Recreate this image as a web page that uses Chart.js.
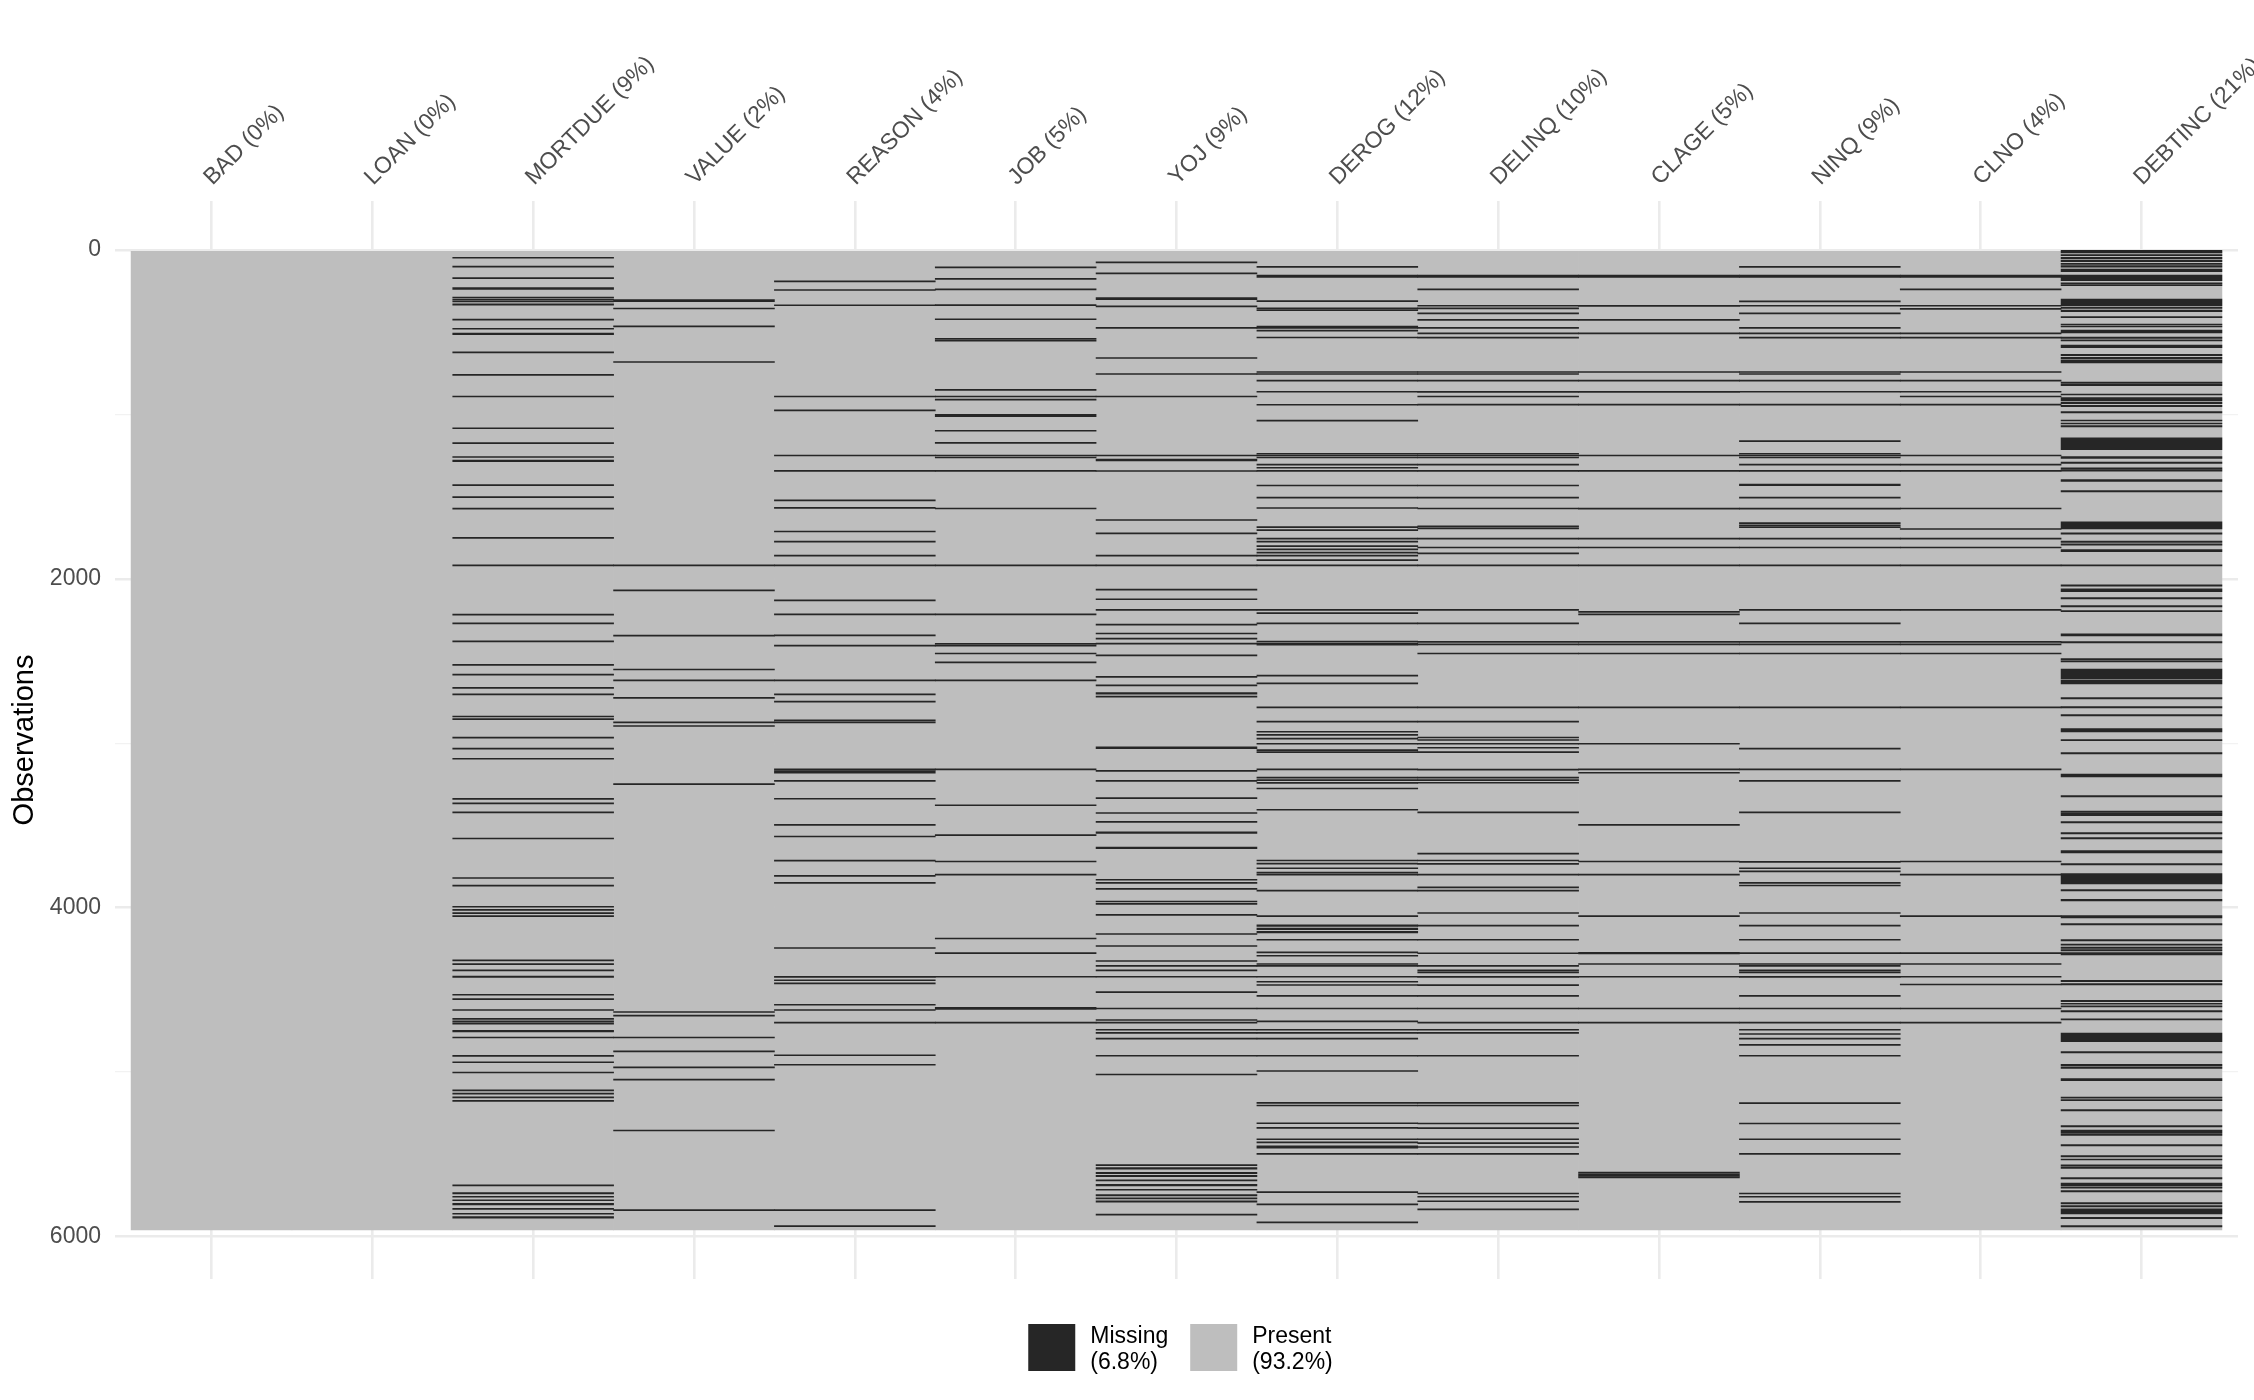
<!DOCTYPE html>
<html>
<head>
<meta charset="utf-8">
<title>Missing values by variable</title>
<script src="https://cdn.jsdelivr.net/npm/chart.js@4.4.1/dist/chart.umd.min.js"></script>
<style>
  html, body { margin: 0; padding: 0; background: #ffffff; }
  canvas { display: block; }
</style>
</head>
<body>
<canvas id="chart" width="2254" height="1400" style="width:2254px;height:1400px"></canvas>
<script>
// Variables in column order and their share of missing values
const variables = ['BAD', 'LOAN', 'MORTDUE', 'VALUE', 'REASON', 'JOB', 'YOJ', 'DEROG', 'DELINQ', 'CLAGE', 'NINQ', 'CLNO', 'DEBTINC'];
const missingPct = ['0%', '0%', '9%', '2%', '4%', '5%', '9%', '12%', '10%', '5%', '9%', '4%', '21%'];
const tickLabels = variables.map((v, i) => `${v} (${missingPct[i]})`);
const yTicks = [0, 1000, 2000, 3000, 4000, 5000, 6000];
const totalRows = 5960;

// Runs of missing observations per variable, as [first row, last row]
const missBAD = [];
const missLOAN = [];
const missMORTDUE = [[44,50],[98,102],[168,174],[228,240],[286,292],[298,304],[309,315],[328,336],[420,424],[476,482],[505,515],[620,626],[756,762],[888,892],[1081,1085],[1171,1177],[1256,1262],[1277,1288],[1427,1433],[1500,1506],[1570,1576],[1748,1754],[1915,1919],[2214,2220],[2268,2272],[2377,2381],[2520,2526],[2579,2583],[2660,2664],[2699,2703],[2834,2840],[2850,2856],[2963,2969],[3029,3033],[3091,3097],[3335,3341],[3362,3366],[3417,3421],[3576,3580],[3816,3822],[3863,3869],[3991,3997],[4010,4016],[4030,4034],[4048,4054],[4317,4323],[4340,4344],[4378,4384],[4416,4424],[4526,4532],[4553,4559],[4619,4623],[4672,4680],[4688,4692],[4700,4708],[4745,4755],[4786,4790],[4898,4904],[4937,4941],[4999,5003],[5108,5114],[5128,5134],[5150,5154],[5172,5178],[5686,5690],[5733,5741],[5755,5761],[5776,5782],[5798,5808],[5828,5834],[5858,5864],[5878,5888]];
const missVALUE = [[302,314],[353,357],[461,465],[678,684],[1915,1919],[2067,2071],[2342,2348],[2548,2552],[2614,2618],[2721,2727],[2870,2874],[2892,2898],[3245,3251],[4631,4635],[4653,4659],[4786,4790],[4871,4875],[4968,4972],[5042,5046],[5352,5356],[5836,5842]];
const missREASON = [[188,194],[240,244],[333,337],[888,892],[972,978],[1247,1253],[1340,1346],[1520,1524],[1565,1571],[1709,1715],[1771,1777],[1856,1862],[1915,1919],[2128,2134],[2213,2219],[2341,2347],[2403,2409],[2614,2618],[2699,2703],[2744,2750],[2858,2862],[2870,2874],[3156,3160],[3166,3170],[3176,3180],[3226,3230],[3334,3340],[3493,3499],[3564,3568],[3711,3715],[3803,3809],[3846,3852],[4242,4248],[4418,4422],[4438,4442],[4457,4461],[4587,4593],[4619,4623],[4696,4702],[4894,4898],[4952,4958],[5836,5842],[5933,5939]];
const missJOB = [[103,109],[173,179],[236,240],[332,338],[418,422],[537,543],[549,555],[848,854],[888,892],[907,911],[999,1013],[1096,1102],[1170,1176],[1247,1253],[1259,1265],[1340,1346],[1569,1575],[1915,1919],[2213,2219],[2392,2398],[2404,2410],[2451,2455],[2505,2509],[2614,2618],[3156,3162],[3374,3378],[3555,3561],[3716,3720],[3796,3802],[4184,4190],[4273,4279],[4417,4423],[4606,4618],[4696,4702]];
const missYOJ = [[72,78],[139,143],[290,302],[340,346],[471,477],[654,660],[751,757],[888,892],[1247,1253],[1272,1283],[1341,1345],[1639,1645],[1720,1726],[1856,1862],[1915,1919],[2062,2068],[2121,2125],[2186,2192],[2275,2281],[2329,2335],[2360,2366],[2391,2397],[2462,2466],[2593,2599],[2645,2649],[2692,2702],[2713,2719],[3022,3032],[3165,3169],[3226,3232],[3330,3336],[3421,3425],[3475,3479],[3538,3548],[3631,3641],[3827,3833],[3846,3852],[3882,3886],[3959,3965],[3974,3980],[4040,4046],[4157,4163],[4230,4236],[4321,4325],[4351,4357],[4378,4384],[4417,4423],[4510,4516],[4610,4616],[4680,4686],[4696,4702],[4739,4745],[4758,4764],[4793,4799],[4897,4903],[5011,5015],[5562,5568],[5580,5590],[5610,5618],[5628,5636],[5655,5662],[5682,5692],[5712,5718],[5745,5753],[5765,5771],[5782,5790],[5863,5869]];
const missDEROG = [[100,104],[153,167],[308,314],[351,357],[363,369],[463,477],[487,493],[529,535],[739,745],[751,757],[791,795],[859,865],[938,942],[1035,1039],[1236,1242],[1247,1253],[1259,1265],[1302,1306],[1321,1327],[1340,1346],[1429,1435],[1503,1509],[1566,1570],[1682,1688],[1701,1707],[1752,1758],[1771,1777],[1798,1804],[1818,1824],[1837,1843],[1856,1862],[1883,1889],[1915,1919],[2186,2192],[2205,2211],[2268,2272],[2379,2385],[2392,2404],[2585,2591],[2633,2637],[2779,2785],[2865,2871],[2927,2933],[2946,2952],[2969,2975],[3000,3006],[3039,3045],[3051,3057],[3156,3162],[3206,3212],[3221,3227],[3238,3242],[3272,3278],[3401,3405],[3710,3716],[3729,3735],[3757,3763],[3784,3790],[3796,3802],[3893,3899],[4048,4054],[4104,4114],[4124,4134],[4143,4153],[4192,4198],[4269,4275],[4289,4295],[4339,4345],[4351,4357],[4417,4423],[4447,4453],[4467,4473],[4533,4539],[4610,4616],[4688,4694],[4739,4745],[4758,4764],[4793,4799],[4897,4903],[4990,4996],[5184,5190],[5200,5206],[5308,5314],[5336,5342],[5405,5411],[5424,5430],[5448,5462],[5494,5500],[5727,5733],[5801,5807],[5911,5915]];
const missDELINQ = [[153,167],[236,240],[336,342],[352,356],[382,388],[422,426],[471,477],[504,508],[530,534],[739,745],[751,757],[791,795],[860,864],[888,892],[937,943],[1236,1242],[1247,1253],[1259,1265],[1302,1306],[1340,1346],[1429,1435],[1503,1509],[1569,1575],[1678,1684],[1690,1694],[1752,1758],[1806,1812],[1842,1846],[1915,1919],[2186,2192],[2268,2272],[2380,2384],[2395,2401],[2451,2455],[2779,2785],[2865,2871],[2962,2968],[2977,2983],[3000,3006],[3024,3030],[3051,3057],[3157,3161],[3206,3212],[3221,3227],[3237,3243],[3417,3421],[3668,3674],[3710,3716],[3730,3734],[3796,3802],[3873,3879],[3893,3899],[4029,4033],[4106,4112],[4192,4198],[4274,4278],[4351,4357],[4378,4384],[4390,4396],[4418,4422],[4468,4472],[4533,4539],[4610,4616],[4696,4702],[4739,4745],[4758,4764],[4897,4903],[5184,5190],[5200,5206],[5309,5313],[5337,5341],[5405,5411],[5429,5435],[5452,5458],[5494,5500],[5735,5741],[5755,5761],[5782,5788],[5832,5838]];
const missCLAGE = [[153,167],[337,341],[422,426],[504,508],[739,745],[791,795],[860,864],[937,943],[1247,1253],[1340,1346],[1570,1574],[1752,1758],[1806,1812],[1915,1919],[2198,2204],[2213,2219],[2380,2384],[2395,2401],[2451,2455],[2779,2785],[3000,3006],[3156,3162],[3176,3180],[3493,3499],[3716,3720],[3796,3802],[4048,4054],[4271,4281],[4339,4345],[4417,4423],[4610,4616],[4696,4702],[5608,5612],[5618,5622],[5628,5632],[5637,5641]];
const missNINQ = [[100,104],[153,167],[309,313],[336,342],[382,388],[471,477],[504,508],[530,534],[739,745],[751,757],[791,795],[859,865],[937,943],[1159,1163],[1236,1242],[1247,1253],[1259,1265],[1302,1306],[1340,1346],[1424,1434],[1503,1509],[1570,1574],[1658,1664],[1671,1675],[1682,1688],[1752,1758],[1806,1812],[1915,1919],[2186,2192],[2268,2272],[2380,2384],[2395,2401],[2451,2455],[2779,2785],[3029,3033],[3156,3162],[3226,3232],[3417,3421],[3718,3724],[3757,3763],[3776,3782],[3846,3852],[3862,3868],[4029,4033],[4106,4112],[4192,4198],[4273,4279],[4339,4345],[4351,4357],[4378,4384],[4390,4396],[4418,4422],[4533,4539],[4610,4616],[4696,4702],[4739,4745],[4765,4771],[4793,4799],[4831,4837],[4897,4903],[5185,5189],[5309,5313],[5405,5411],[5494,5500],[5735,5741],[5755,5761],[5786,5792]];
const missCLNO = [[153,167],[236,240],[336,342],[355,361],[504,508],[530,534],[739,745],[791,795],[859,865],[888,892],[937,943],[1247,1253],[1302,1306],[1340,1346],[1569,1575],[1694,1698],[1752,1758],[1806,1812],[1915,1919],[2186,2192],[2380,2384],[2395,2401],[2451,2455],[2779,2785],[3156,3162],[3716,3720],[3796,3802],[4048,4054],[4273,4279],[4339,4345],[4417,4423],[4464,4468],[4610,4616],[4696,4702]];
const missDEBTINC = [[2,18],[28,34],[44,53],[61,71],[81,87],[95,105],[116,132],[152,187],[199,205],[211,215],[298,339],[347,355],[365,375],[405,411],[450,456],[462,468],[487,505],[529,537],[547,553],[578,594],[635,643],[653,663],[669,687],[803,811],[817,825],[876,882],[898,918],[926,934],[945,953],[983,991],[1034,1040],[1052,1058],[1068,1076],[1143,1214],[1256,1268],[1290,1298],[1325,1331],[1335,1345],[1396,1408],[1463,1471],[1653,1696],[1720,1728],[1771,1779],[1787,1795],[1822,1834],[1915,1919],[2037,2045],[2060,2078],[2114,2122],[2163,2171],[2193,2199],[2335,2347],[2382,2390],[2485,2493],[2499,2505],[2548,2609],[2615,2639],[2722,2730],[2777,2785],[2826,2834],[2911,2931],[2978,2984],[3057,3065],[3187,3205],[3318,3326],[3412,3420],[3424,3440],[3476,3484],[3543,3551],[3574,3582],[3653,3667],[3732,3740],[3793,3856],[3890,3898],[3949,3959],[4048,4062],[4097,4105],[4194,4202],[4221,4227],[4239,4247],[4255,4263],[4273,4287],[4441,4450],[4462,4470],[4563,4571],[4581,4587],[4597,4604],[4626,4634],[4675,4683],[4762,4814],[4875,4883],[4952,4960],[4968,4977],[5039,5052],[5151,5159],[5167,5173],[5228,5236],[5325,5333],[5352,5372],[5378,5384],[5441,5449],[5508,5516],[5528,5534],[5564,5572],[5577,5585],[5641,5650],[5674,5690],[5698,5706],[5720,5728],[5793,5801],[5811,5819],[5832,5862],[5883,5891],[5933,5941]];

const missingRuns = [missBAD, missLOAN, missMORTDUE, missVALUE, missREASON, missJOB, missYOJ, missDEROG, missDELINQ, missCLAGE, missNINQ, missCLNO, missDEBTINC];

// Legend entries: fill state and its share of all cells
const legendNames = ['Missing', 'Present'];
const legendShares = ['(6.8%)', '(93.2%)'];

const MISSING_COLOR = '#262626';
const PRESENT_COLOR = '#bebebe';
const GRID_COLOR = '#ebebeb';
const FONT = "'Liberation Sans', Arial, Helvetica, sans-serif";

// Present cells: one full-height tile per variable
const presentDataset = {
  label: 'Present',
  data: variables.map((v, i) => ({ x: i + 1, y: [0, totalRows] })),
  backgroundColor: PRESENT_COLOR,
  order: 2
};

// Missing runs: the k-th run of every variable goes into the k-th layer
const maxRuns = Math.max(...missingRuns.map(r => r.length));
const missingDatasets = [];
for (let k = 0; k < maxRuns; k++) {
  const data = [];
  missingRuns.forEach((runs, i) => {
    if (runs[k]) data.push({ x: i + 1, y: [runs[k][0], runs[k][1]] });
  });
  missingDatasets.push({
    label: 'Missing',
    data,
    backgroundColor: MISSING_COLOR,
    minBarLength: 1,
    order: 1
  });
}

// Two-line fill legend drawn under the panel
const fillLegend = {
  id: 'fillLegend',
  afterDraw(chart) {
    const { ctx, chartArea } = chart;
    const colors = [MISSING_COLOR, PRESENT_COLOR];
    const box = 47, textGap = 15, itemGap = 22, lineGap = 26;
    ctx.save();
    ctx.font = `23px ${FONT}`;
    const widths = legendNames.map((n, i) => Math.max(ctx.measureText(n).width, ctx.measureText(legendShares[i]).width));
    const total = widths.reduce((s, w) => s + box + textGap + w, 0) + itemGap * (legendNames.length - 1);
    let x = (chartArea.left + chartArea.right) / 2 + 4 - total / 2;
    const top = chartArea.bottom + 45;
    ctx.textAlign = 'left';
    ctx.textBaseline = 'alphabetic';
    legendNames.forEach((name, i) => {
      ctx.fillStyle = colors[i];
      ctx.fillRect(x, top, box, box);
      ctx.fillStyle = '#000000';
      ctx.fillText(name, x + box + textGap, top + 19);
      ctx.fillText(legendShares[i], x + box + textGap, top + 19 + lineGap);
      x += box + textGap + widths[i] + itemGap;
    });
    ctx.restore();
  }
};

new Chart(document.getElementById('chart'), {
  type: 'bar',
  data: { datasets: [presentDataset, ...missingDatasets] },
  options: {
    responsive: false,
    devicePixelRatio: 1,
    animation: false,
    grouped: false,
    barPercentage: 1,
    categoryPercentage: 1,
    layout: { padding: { left: 0, top: 0, right: 16, bottom: 121 } },
    plugins: {
      legend: { display: false },
      tooltip: { enabled: false },
      title: { display: false }
    },
    scales: {
      x: {
        type: 'linear',
        position: 'top',
        offset: false,
        min: 0.4,
        max: 13.6,
        afterBuildTicks(scale) {
          scale.ticks = variables.map((v, i) => ({ value: i + 1 }));
        },
        afterFit(scale) {
          scale.height = 201;
          scale.paddingLeft = 0;
          scale.paddingRight = 0;
        },
        border: { display: false },
        grid: { offset: false, color: GRID_COLOR, lineWidth: 2.6, drawTicks: false },
        ticks: {
          autoSkip: false,
          minRotation: 45,
          maxRotation: 45,
          padding: 10,
          labelOffset: 16,
          color: '#4d4d4d',
          font: { family: FONT, size: 23 },
          callback: (value) => tickLabels[value - 1]
        }
      },
      y: {
        type: 'linear',
        reverse: true,
        min: -298,
        max: 6258,
        afterBuildTicks(scale) {
          scale.ticks = yTicks.map(v => ({ value: v }));
        },
        afterFit(scale) {
          scale.width = 115;
          scale.paddingTop = 0;
          scale.paddingBottom = 0;
        },
        border: { display: false },
        grid: {
          drawTicks: false,
          color: (ctx) => (ctx.tick && ctx.tick.value % 2000 === 0) ? GRID_COLOR : '#f2f2f2',
          lineWidth: (ctx) => (ctx.tick && ctx.tick.value % 2000 === 0) ? 2.5 : 1.3
        },
        ticks: {
          padding: 14,
          color: '#4d4d4d',
          font: { family: FONT, size: 23 },
          callback: (value) => (value % 2000 === 0 ? String(value) : '')
        },
        title: {
          display: true,
          text: 'Observations',
          color: '#000000',
          font: { family: FONT, size: 29 },
          padding: { top: 8, bottom: 0 }
        }
      }
    }
  },
  plugins: [fillLegend]
});
</script>
</body>
</html>
